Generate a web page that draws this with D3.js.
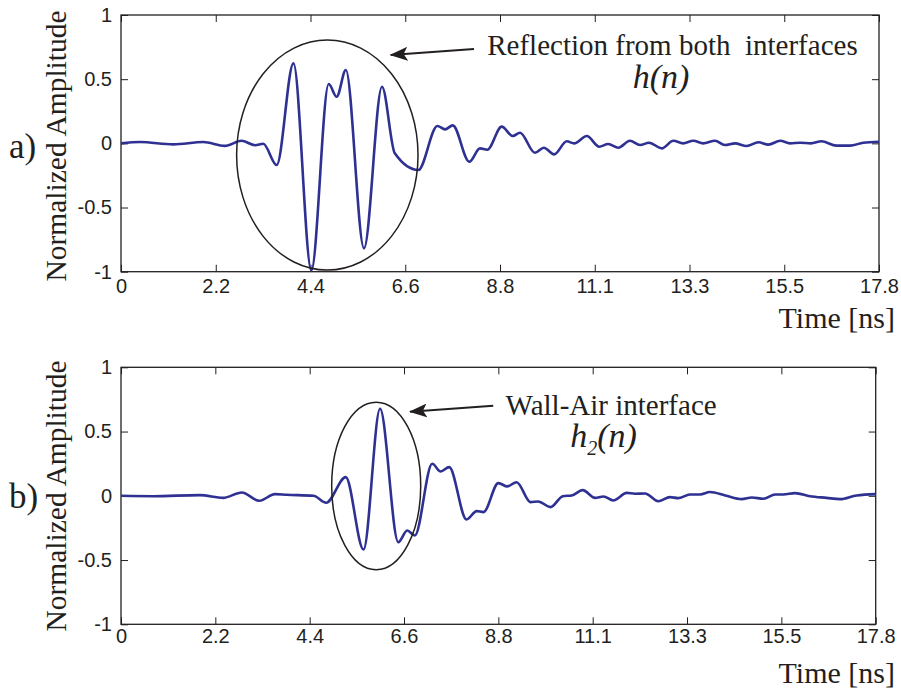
<!DOCTYPE html>
<html>
<head>
<meta charset="utf-8">
<script src="https://cdn.jsdelivr.net/npm/d3@7"></script>
<style>
  body { margin: 0; background: #fff; }
  svg { display: block; }
</style>
</head>
<body>
<svg id="chart" width="901" height="692"></svg>
<script>
// Axis ticks (labels are rounded in the original figure)
const xMax = 17.8;
const xTickLabels = ["0", "2.2", "4.4", "6.6", "8.8", "11.1", "13.3", "15.5", "17.8"];
const yTickValues = [-1, -0.5, 0, 0.5, 1];
const yTickLabels = ["-1", "-0.5", "0", "0.5", "1"];

// a) reflection from both interfaces, h(n)
const timeA = [0, 0.45, 1.23, 1.93, 2.44, 2.83, 3.15, 3.34, 3.656, 4.05, 4.47, 4.877, 5.065, 5.28,
  5.706, 6.129, 6.43, 6.98, 7.43, 7.61, 7.79, 8.18, 8.43, 8.6, 8.94, 9.2, 9.37, 9.72, 9.93,
  10.17, 10.47, 10.64, 10.94, 11.23, 11.44, 11.68, 11.95, 12.19, 12.4, 12.7, 12.97, 13.2,
  13.44, 13.67, 13.95, 14.18, 14.42, 14.69, 14.97, 15.2, 15.48, 15.71, 15.95, 16.2, 16.45,
  16.8, 17.12, 17.43, 17.8];
const ampA = [0, 0.01, -0.008, 0.01, -0.02, 0.02, -0.015, -0.003, -0.169, 0.623, -0.99, 0.462, 0.363, 0.571,
  -0.818, 0.441, -0.078, -0.208, 0.135, 0.109, 0.14, -0.143, -0.039, -0.05, 0.13, 0.057, 0.083, -0.073, -0.034,
  -0.086, 0.016, 0.0, 0.057, -0.026, -0.005, -0.034, 0.02, -0.013, 0.005, -0.039, 0.02, 0.0,
  0.02, 0.0, 0.02, -0.013, 0.0, -0.021, 0.008, -0.01, 0.02, 0.0, 0.005, 0.0, 0.016,
  -0.018, -0.018, 0.005, 0.013];

// b) wall-air interface, h2(n)
const timeB = [0, 0.76, 1.86, 2.41, 2.85, 3.26, 3.63, 3.91, 4.54, 4.84, 5.3, 5.72, 6.11, 6.54, 6.75,
  6.93, 7.34, 7.54, 7.74, 8.15, 8.39, 8.55, 8.9, 9.11, 9.33, 9.66, 9.84, 10.13, 10.42, 10.63,
  10.89, 11.18, 11.38, 11.61, 11.93, 12.12, 12.36, 12.67, 12.95, 13.14, 13.42, 13.66, 13.89,
  14.25, 14.64, 14.88, 15.15, 15.43, 15.62, 15.9, 16.25, 16.64, 16.96, 17.35, 17.8];
const ampB = [0, -0.003, 0.005, -0.016, 0.026, -0.039, 0.013, 0.008, 0, -0.054, 0.145, -0.418, 0.677, -0.361, -0.27,
  -0.309, 0.249, 0.189, 0.223, -0.184, -0.119, -0.127, 0.099, 0.073, 0.106, -0.049, -0.044, -0.088, -0.003, 0.003,
  0.044, -0.016, -0.005, -0.036, 0.023, 0.016, 0.018, -0.042, -0.01, -0.018, 0.01, 0.01, 0.029,
  0.003, -0.026, -0.013, -0.023, 0.01, 0.01, 0.021, -0.003, -0.016, -0.026, 0.003, 0.013];

const ink = "#231f20";
const lineColor = "#2e3192";
const sans = "'Liberation Sans', Arial, Helvetica, sans-serif";
const serif = "'Liberation Serif', 'Times New Roman', Times, serif";

const panels = [
  {
    tag: "a)", tagY: 158, time: timeA, amp: ampA,
    box: { left: 121, right: 879, top: 15, bottom: 271.7 },
    labelPad: 7, xLabelY: 328, yLabelCenter: 146,
    ellipse: { cx: 4.845, cy: -0.091, rx: 2.13, ry: 0.896 },
    arrow: { from: [8.29, 0.735], to: [6.333, 0.688] },
    note: { text: "Reflection from both  interfaces", x: 12.95, y: 0.688 },
    sym: { main: "h", sub: null, x: 12.68, y: 0.431 }
  },
  {
    tag: "b)", tagY: 508, time: timeB, amp: ampB,
    box: { left: 121, right: 875.7, top: 367.3, bottom: 624.3 },
    labelPad: 5, xLabelY: 683, yLabelCenter: 496,
    ellipse: { cx: 6.019, cy: 0.0765, rx: 1.05, ry: 0.652 },
    arrow: { from: [8.78, 0.701], to: [6.816, 0.654] },
    note: { text: "Wall-Air interface", x: 11.56, y: 0.629 },
    sym: { main: "h", sub: "2", x: 11.38, y: 0.377 }
  }
];

const svg = d3.select("#chart");

// arrowhead used by both annotations
svg.append("defs").append("marker")
  .attr("id", "head")
  .attr("markerUnits", "userSpaceOnUse")
  .attr("viewBox", "0 0 18 14")
  .attr("refX", 17).attr("refY", 7)
  .attr("markerWidth", 18).attr("markerHeight", 14)
  .attr("orient", "auto")
  .append("path")
  .attr("d", "M0,0 L18,7 L0,14 L4,7 Z")
  .attr("fill", ink);

panels.forEach(p => drawPanel(p));

function drawPanel(p) {
  const b = p.box;
  const x = d3.scaleLinear().domain([0, xMax]).range([b.left, b.right]);
  const y = d3.scaleLinear().domain([-1, 1]).range([b.bottom, b.top]);
  const xTicks = xTickLabels.map((_, i) => i * xMax / (xTickLabels.length - 1));

  const g = svg.append("g");

  // bottom axis with labels, ticks pointing inward
  const ax = g.append("g")
    .attr("transform", `translate(0,${b.bottom})`)
    .call(d3.axisBottom(x).tickValues(xTicks).tickSizeInner(-7).tickSizeOuter(0)
      .tickPadding(p.labelPad).tickFormat((d, i) => xTickLabels[i]));
  // top axis, ticks only
  const axTop = g.append("g")
    .attr("transform", `translate(0,${b.top})`)
    .call(d3.axisTop(x).tickValues(xTicks).tickSizeInner(-7).tickSizeOuter(0).tickFormat(""));
  // left axis with labels
  const ay = g.append("g")
    .attr("transform", `translate(${b.left},0)`)
    .call(d3.axisLeft(y).tickValues(yTickValues).tickSizeInner(-7).tickSizeOuter(0)
      .tickPadding(9).tickFormat((d, i) => yTickLabels[i]));
  // right axis, ticks only
  const ayRight = g.append("g")
    .attr("transform", `translate(${b.right},0)`)
    .call(d3.axisRight(y).tickValues(yTickValues).tickSizeInner(-7).tickSizeOuter(0).tickFormat(""));

  [ax, axTop, ay, ayRight].forEach(a => {
    a.select(".domain").remove();
    a.selectAll("line").attr("stroke", ink).attr("stroke-width", 1);
    a.selectAll("text").attr("fill", ink).attr("font-family", sans).attr("font-size", 20);
  });

  // axes frame
  g.append("rect")
    .attr("x", b.left).attr("y", b.top)
    .attr("width", b.right - b.left).attr("height", b.bottom - b.top)
    .attr("fill", "none").attr("stroke", ink).attr("stroke-width", 1.3);

  // waveform
  const line = d3.line()
    .x(d => x(d[0]))
    .y(d => y(d[1]))
    .curve(d3.curveMonotoneX);
  g.append("path")
    .datum(p.time.map((t, i) => [t, p.amp[i]]))
    .attr("d", line)
    .attr("fill", "none")
    .attr("stroke", lineColor)
    .attr("stroke-width", 2.6)
    .attr("stroke-linejoin", "round");

  // ellipse around the interesting part
  const e = p.ellipse;
  g.append("ellipse")
    .attr("cx", x(e.cx)).attr("cy", y(e.cy))
    .attr("rx", x(e.cx + e.rx) - x(e.cx))
    .attr("ry", y(e.cy - e.ry) - y(e.cy))
    .attr("fill", "none").attr("stroke", ink).attr("stroke-width", 1.5);

  // arrow and note
  g.append("line")
    .attr("x1", x(p.arrow.from[0])).attr("y1", y(p.arrow.from[1]))
    .attr("x2", x(p.arrow.to[0])).attr("y2", y(p.arrow.to[1]))
    .attr("stroke", ink).attr("stroke-width", 2)
    .attr("marker-end", "url(#head)");

  g.append("text")
    .attr("x", x(p.note.x)).attr("y", y(p.note.y))
    .attr("text-anchor", "middle")
    .attr("font-family", serif).attr("font-size", 29)
    .attr("fill", ink)
    .style("white-space", "pre")
    .text(p.note.text);

  const sym = g.append("text")
    .attr("x", x(p.sym.x)).attr("y", y(p.sym.y))
    .attr("text-anchor", "middle")
    .attr("font-family", serif).attr("font-size", 34)
    .attr("font-style", "italic")
    .attr("fill", ink);
  sym.append("tspan").text(p.sym.main);
  if (p.sym.sub) {
    sym.append("tspan").attr("font-size", 20).attr("dy", 8).text(p.sym.sub);
    sym.append("tspan").attr("dy", -8).text("(n)");
  } else {
    sym.append("tspan").text("(n)");
  }

  // axis titles
  g.append("text")
    .attr("x", 895).attr("y", p.xLabelY)
    .attr("text-anchor", "end")
    .attr("font-family", serif).attr("font-size", 30)
    .attr("fill", ink)
    .text("Time [ns]");

  g.append("text")
    .attr("transform", `translate(66,${p.yLabelCenter}) rotate(-90)`)
    .attr("text-anchor", "middle")
    .attr("font-family", serif).attr("font-size", 29.5)
    .attr("fill", ink)
    .text("Normalized Amplitude");

  // panel tag
  g.append("text")
    .attr("x", 9).attr("y", p.tagY)
    .attr("font-family", serif).attr("font-size", 35)
    .attr("fill", ink)
    .text(p.tag);
}
</script>
</body>
</html>
